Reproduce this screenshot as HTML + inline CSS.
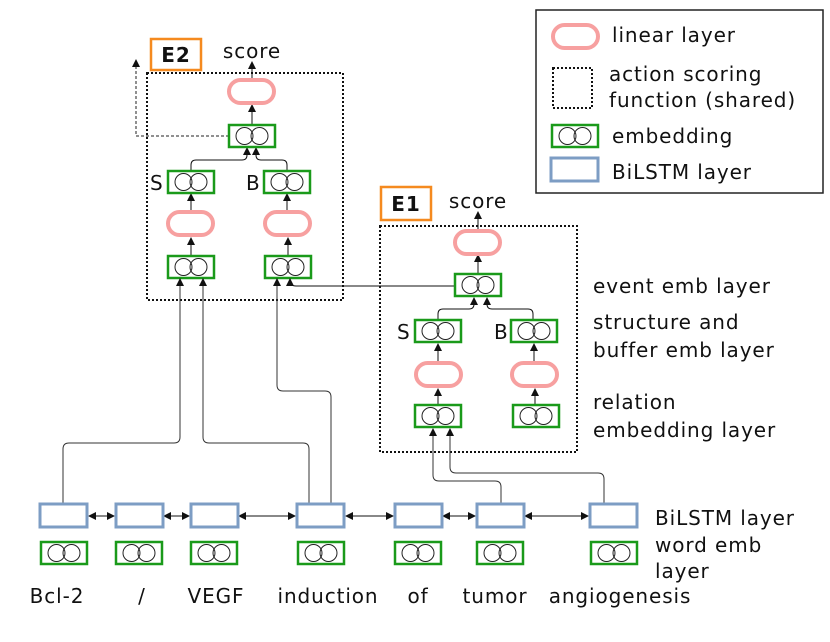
<!DOCTYPE html>
<html><head><meta charset="utf-8"><style>
html,body{margin:0;padding:0;background:#fff;}
svg{display:block;}
text{font-family:"DejaVu Sans","Liberation Sans",sans-serif;font-size:20px;letter-spacing:0.9px;fill:#111;}
</style></head><body>
<svg width="830" height="642" viewBox="0 0 830 642" xmlns="http://www.w3.org/2000/svg">
<defs>
<g id="emb"><rect x="0" y="0" width="46" height="22" fill="#fff" stroke="#1a9a1a" stroke-width="2.5"/><circle cx="15.5" cy="11" r="8.5" fill="none" stroke="#222" stroke-width="1"/><circle cx="30.5" cy="11" r="8.5" fill="none" stroke="#222" stroke-width="1"/></g>
<g id="lin"><rect x="0" y="0" width="45" height="23" rx="11.5" fill="#fff" stroke="#f7a0a0" stroke-width="4"/></g>
<g id="bl"><rect x="0" y="0" width="47" height="23" fill="#fff" stroke="#7d9dc4" stroke-width="3"/></g>
<marker id="ar" markerWidth="8" markerHeight="8" refX="7" refY="4" orient="auto" markerUnits="userSpaceOnUse"><path d="M0,0 L8,4 L0,8 z" fill="#111"/></marker>
<marker id="as" markerWidth="8" markerHeight="8" refX="1" refY="4" orient="auto" markerUnits="userSpaceOnUse"><path d="M8,0 L0,4 L8,8 z" fill="#111"/></marker>
</defs>

<!-- legend -->
<rect x="536" y="10" width="287" height="183" fill="#fff" stroke="#222" stroke-width="1.5"/>
<use href="#lin" x="553" y="25"/>
<text x="612" y="42">linear layer</text>
<rect x="553" y="68" width="39" height="40" fill="none" stroke="#111" stroke-width="2" stroke-dasharray="2,2"/>
<text x="609" y="81">action scoring</text>
<text x="609" y="107">function (shared)</text>
<use href="#emb" x="552" y="125"/>
<text x="612" y="143">embedding</text>
<use href="#bl" x="551" y="158"/>
<text x="612" y="179">BiLSTM layer</text>

<!-- E2 -->
<rect x="147" y="73" width="196" height="227" fill="none" stroke="#111" stroke-width="2" stroke-dasharray="2,2"/>
<rect x="151" y="39" width="50" height="31" fill="#fff" stroke="#f58a1f" stroke-width="2.5"/>
<text x="176" y="62" text-anchor="middle" style="font-weight:bold">E2</text>
<text x="252" y="58" text-anchor="middle">score</text>
<g stroke="#111" stroke-width="1" fill="none" marker-end="url(#ar)">
<line x1="252" y1="80" x2="252" y2="62"/>
<line x1="252" y1="125" x2="252" y2="105"/>
<path d="M191,171 V165 Q191,160 196,160 H242 Q247,160 247,155 V148"/>
<path d="M287,171 V165 Q287,160 282,160 H261 Q256,160 256,155 V148"/>
<line x1="191" y1="212" x2="191" y2="194"/>
<line x1="287" y1="212" x2="287" y2="194"/>
<line x1="191" y1="255" x2="191" y2="238"/>
<line x1="288" y1="255" x2="288" y2="238"/>
</g>
<path d="M229,136 H136 V60" stroke="#222" stroke-width="1" fill="none" stroke-dasharray="3,2" marker-end="url(#ar)"/>
<use href="#lin" x="229" y="80"/>
<use href="#emb" x="229" y="125"/>
<use href="#emb" x="168" y="171"/>
<use href="#emb" x="264" y="171"/>
<text x="150" y="190">S</text>
<text x="246" y="190">B</text>
<use href="#lin" x="168" y="212"/>
<use href="#lin" x="265" y="212"/>
<use href="#emb" x="168" y="256"/>
<use href="#emb" x="265" y="256"/>

<!-- E1 -->
<rect x="380" y="226" width="197" height="226" fill="none" stroke="#111" stroke-width="2" stroke-dasharray="2,2"/>
<rect x="381" y="187" width="50" height="33" fill="#fff" stroke="#f58a1f" stroke-width="2.5"/>
<text x="406" y="211" text-anchor="middle" style="font-weight:bold">E1</text>
<text x="478" y="208" text-anchor="middle">score</text>
<g stroke="#111" stroke-width="1" fill="none" marker-end="url(#ar)">
<line x1="478" y1="231" x2="478" y2="212"/>
<line x1="478" y1="274" x2="478" y2="255"/>
<path d="M438,320 V314 Q438,309 443,309 H469 Q474,309 474,304 V298"/>
<path d="M533,320 V314 Q533,309 528,309 H492 Q487,309 487,304 V298"/>
<line x1="438" y1="362" x2="438" y2="344"/>
<line x1="534" y1="362" x2="534" y2="344"/>
<line x1="438" y1="405" x2="438" y2="389"/>
<line x1="535" y1="405" x2="535" y2="389"/>
<path d="M455,286 H296 Q290,286 290,280 V279"/>
</g>
<use href="#lin" x="455" y="231"/>
<use href="#emb" x="455" y="274"/>
<use href="#emb" x="415" y="320"/>
<use href="#emb" x="511" y="320"/>
<text x="397" y="339">S</text>
<text x="494" y="339">B</text>
<use href="#lin" x="416" y="363"/>
<use href="#lin" x="512" y="363"/>
<use href="#emb" x="415" y="405"/>
<use href="#emb" x="513" y="405"/>

<text x="593" y="293">event emb layer</text>
<text x="593" y="329">structure and</text>
<text x="593" y="357">buffer emb layer</text>
<text x="593" y="409">relation</text>
<text x="593" y="437">embedding layer</text>

<!-- long connectors -->
<g stroke="#333" stroke-width="1" fill="none" marker-end="url(#ar)">
<path d="M63,504 V449 Q63,443 69,443 H174 Q180,443 180,437 V279"/>
<path d="M309,504 V449 Q309,443 303,443 H209 Q203,443 203,437 V279"/>
<path d="M331,504 V397 Q331,391 325,391 H283 Q277,391 277,385 V279"/>
<path d="M501,504 V487 Q501,481 495,481 H439 Q433,481 433,475 V429"/>
<path d="M604,504 V479 Q604,473 598,473 H456 Q450,473 450,467 V429"/>
</g>

<!-- BiLSTM row -->
<g stroke="#111" stroke-width="1" fill="none" marker-start="url(#as)" marker-end="url(#ar)">
<line x1="89" y1="516" x2="114" y2="516"/>
<line x1="164" y1="516" x2="189" y2="516"/>
<line x1="239" y1="516" x2="295" y2="516"/>
<line x1="346" y1="516" x2="393" y2="516"/>
<line x1="443" y1="516" x2="475" y2="516"/>
<line x1="525" y1="516" x2="588" y2="516"/>
</g>
<use href="#bl" x="40" y="504"/>
<use href="#bl" x="116" y="504"/>
<use href="#bl" x="191" y="504"/>
<use href="#bl" x="297" y="504"/>
<use href="#bl" x="395" y="504"/>
<use href="#bl" x="477" y="504"/>
<use href="#bl" x="590" y="504"/>
<use href="#emb" x="41" y="542"/>
<use href="#emb" x="116" y="542"/>
<use href="#emb" x="191" y="542"/>
<use href="#emb" x="298" y="542"/>
<use href="#emb" x="395" y="542"/>
<use href="#emb" x="477" y="542"/>
<use href="#emb" x="591" y="542"/>
<text x="655" y="525">BiLSTM layer</text>
<text x="655" y="552">word emb</text>
<text x="655" y="578">layer</text>
<g text-anchor="middle">
<text x="57" y="603">Bcl-2</text>
<text x="142" y="603">/</text>
<text x="216" y="603">VEGF</text>
<text x="328" y="603">induction</text>
<text x="418" y="603">of</text>
<text x="495" y="603">tumor</text>
<text x="620" y="603">angiogenesis</text>
</g>
</svg>
</body></html>
